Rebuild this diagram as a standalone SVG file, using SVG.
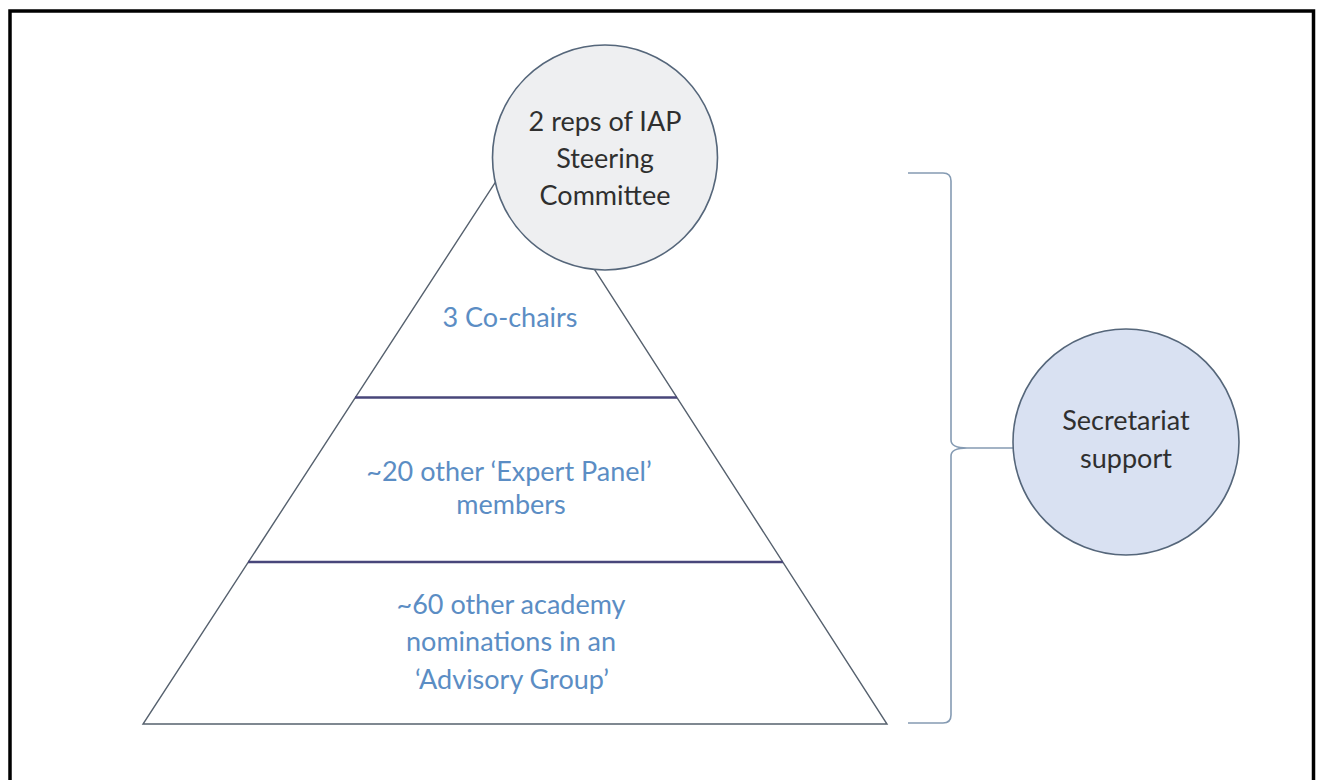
<svg xmlns="http://www.w3.org/2000/svg" width="1322" height="780" viewBox="0 0 1322 780">
<style>
.frame{fill:none;stroke:#000;stroke-width:3.5}
.tri{fill:#fff;stroke:#56616e;stroke-width:1.4}
.div{stroke:#48467a;stroke-width:2.4}
.top{fill:#eeeff1;stroke:#55667a;stroke-width:1.6}
.sec{fill:#d9e1f2;stroke:#55667a;stroke-width:1.6}
.brk{fill:none;stroke:#859bb3;stroke-width:1.6}
.dk{font-family:Lato,"Open Sans",sans-serif;font-size:27px;fill:#2f2f2f;text-anchor:middle}
.bl{font-family:Lato,"Open Sans",sans-serif;font-size:27px;fill:#5b8dc4;text-anchor:middle}
</style>
<rect width="1322" height="780" fill="#fff"/>
<rect class="frame" x="10" y="11" width="1303.5" height="800"/>
<g id="pyramid">
<polygon class="tri" points="517,149 143,724 887,724"/>
<line class="div" x1="355" y1="397.5" x2="677" y2="397.5"/>
<line class="div" x1="248" y1="562" x2="783" y2="562"/>
</g>
<g id="cochairs"><text class="bl" x="510" y="327">3 Co-chairs</text></g>
<g id="expert"><text class="bl" x="509" y="481">~20 other ‘Expert Panel’</text><text class="bl" x="511" y="514">members</text></g>
<g id="advisory"><text class="bl" x="511" y="614">~60 other academy</text><text class="bl" x="511" y="651">nominations in an</text><text class="bl" x="512" y="689">‘Advisory Group’</text></g>
<g id="steering">
<circle class="top" cx="605" cy="157.5" r="112.5"/>
<text class="dk" x="605" y="131">2 reps of IAP</text>
<text class="dk" x="605" y="168">Steering</text>
<text class="dk" x="605" y="205">Committee</text>
</g>
<g id="connectors">
<path class="brk" d="M908,173 L943,173 Q951,173 951,181 L951,440 Q951,448 967,448 L1013,448 M967,448 Q951,448 951,456 L951,715 Q951,723 943,723 L908,723"/>
</g>
<g id="secretariat">
<circle class="sec" cx="1126" cy="442" r="113"/>
<text class="dk" x="1126" y="430">Secretariat</text>
<text class="dk" x="1126" y="468">support</text>
</g>
</svg>
